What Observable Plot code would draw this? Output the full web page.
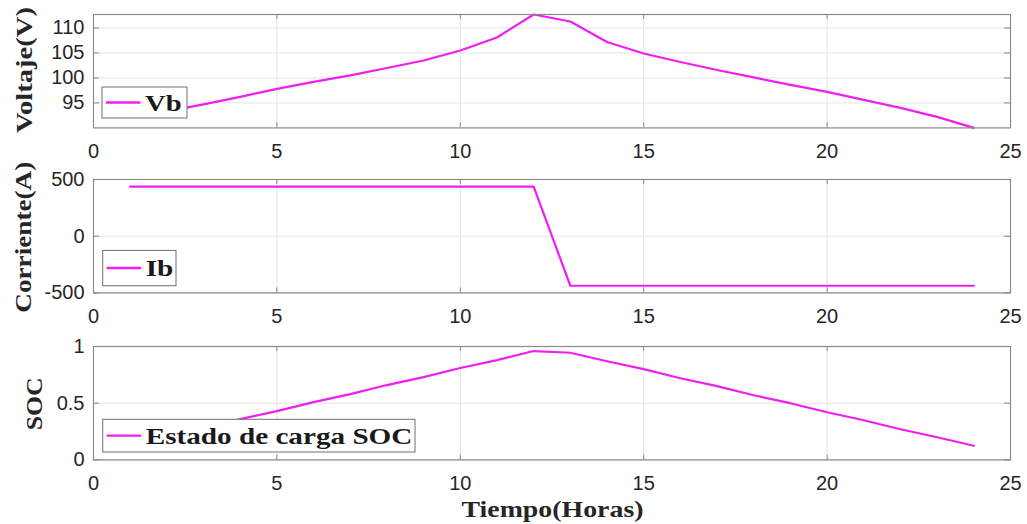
<!DOCTYPE html>
<html>
<head>
<meta charset="utf-8">
<script src="https://cdn.jsdelivr.net/npm/d3@7"></script>
<script src="https://cdn.jsdelivr.net/npm/@observablehq/plot@0.6"></script>
<style>
  html, body { margin: 0; padding: 0; background: white; }
  #chart { position: relative; width: 1027px; height: 524px; overflow: hidden; background: white; }
  #chart svg { position: absolute; left: 0; }
</style>
</head>
<body>
<div id="chart"></div>
<script>
// ---- data ----
const hours = [1, 2, 3, 4, 5, 6, 7, 8, 9, 10, 11, 12, 13, 14, 15, 16, 17, 18, 19, 20, 21, 22, 23, 24];
const vb = [92.4, 93.3, 94.7, 96.2, 97.8, 99.2, 100.5, 102.0, 103.5, 105.5, 108.1, 112.7,
            111.3, 107.2, 104.9, 103.2, 101.6, 100.1, 98.6, 97.2, 95.6, 94.0, 92.2, 90.0];
const ib = [437, 437, 437, 437, 437, 437, 437, 437, 437, 437, 437, 437,
            -437, -437, -437, -437, -437, -437, -437, -437, -437, -437, -437, -437];
const soc = [0.13, 0.21, 0.28, 0.36, 0.43, 0.51, 0.58, 0.66, 0.73, 0.81, 0.88, 0.96,
             0.945, 0.87, 0.80, 0.72, 0.65, 0.57, 0.50, 0.42, 0.35, 0.27, 0.20, 0.125];
const xTicks = [0, 5, 10, 15, 20, 25];
const vbTicks = [95, 100, 105, 110];
const ibTicks = [-500, 0, 500];
const socTicks = [0, 0.5, 1];
const xLabel = "Tiempo(Horas)";
const panels = [
  {values: vb, domain: [90, 112.7], ticks: vbTicks, ylabel: "Voltaje(V)", legend: "Vb",
   top: 0, mb: 38.6, ylx: 24, yly: 70, legBox: [102, 87, 85, 31], legText: 36.6, ylLen: 126},
  {values: ib, domain: [-500, 500], ticks: ibTicks, ylabel: "Corriente(A)", legend: "Ib",
   top: 165.3, mb: 38.6, ylx: 23, yly: 72.2, legBox: [102.7, 85.4, 73.3, 35.3], legText: 27.7, ylLen: 151},
  {values: soc, domain: [0, 1], ticks: socTicks, ylabel: "SOC", legend: "Estado de carga SOC",
   top: 331.7, mb: 64.6, ylx: 34, yly: 71.8, legBox: [102.7, 87.3, 312.3, 32.7], legText: 266.7, ylLen: 53}
];

const magenta = "#f01ef0";
const frameColor = "#8a8a8a";
const gridColor = "#e4e4e4";
const serif = "'Liberation Serif', 'DejaVu Serif', serif";
const container = document.getElementById("chart");
const plotH = 113.4;
const mt = 14;

panels.forEach((p, i) => {
  const rows = hours.map((h, k) => ({h, v: p.values[k]}));
  const H = mt + plotH + p.mb;
  const svg = Plot.plot({
    width: 1027,
    height: H,
    marginLeft: 93,
    marginRight: 17,
    marginTop: mt,
    marginBottom: p.mb,
    style: {fontFamily: "'Liberation Sans', Arial, sans-serif", fontSize: "20px", color: "#262626", background: "white", overflow: "visible"},
    x: {domain: [0, 25], label: null},
    y: {domain: p.domain, label: null},
    marks: [
      Plot.gridX(xTicks, {stroke: gridColor, strokeOpacity: 1}),
      Plot.gridY(p.ticks, {stroke: gridColor, strokeOpacity: 1}),
      Plot.line(rows, {x: "h", y: "v", stroke: magenta, strokeWidth: 2.2}),
      Plot.tickX(xTicks, {x: d => d, insetBottom: plotH - 5, stroke: frameColor}),
      Plot.tickX(xTicks, {x: d => d, insetTop: plotH - 5, stroke: frameColor}),
      Plot.tickY(p.ticks, {y: d => d, insetRight: 917 - 6, stroke: frameColor}),
      Plot.tickY(p.ticks, {y: d => d, insetLeft: 917 - 6, stroke: frameColor}),
      Plot.frame({stroke: frameColor, strokeWidth: 1.2}),
      Plot.axisX(xTicks, {tickSize: 0, tickPadding: 16, tickFormat: d => String(d), fill: "#262626"}),
      Plot.axisY(p.ticks, {tickSize: 0, tickPadding: 9, tickFormat: d => String(d), fill: "#262626"})
    ]
  });
  svg.style.top = p.top + "px";
  const s = d3.select(svg);
  // y label
  s.append("text")
    .attr("transform", `translate(${p.ylx},${p.yly}) rotate(-90)`)
    .attr("text-anchor", "middle")
    .attr("dy", "0.35em")
    .attr("font-family", serif)
    .attr("font-weight", "bold")
    .attr("font-size", 24)
    .attr("fill", "#262626")
    .attr("textLength", p.ylLen)
    .attr("lengthAdjust", "spacingAndGlyphs")
    .text(p.ylabel);
  // legend
  const [bx, by, bw, bh] = p.legBox;
  const g = s.append("g");
  g.append("rect").attr("x", bx).attr("y", by).attr("width", bw).attr("height", bh)
    .attr("fill", "white").attr("stroke", "#707070").attr("stroke-width", 1);
  const cy = by + bh / 2;
  g.append("line").attr("x1", bx + 4).attr("x2", bx + 38.5).attr("y1", cy).attr("y2", cy)
    .attr("stroke", magenta).attr("stroke-width", 2.4);
  g.append("text").attr("x", bx + 43).attr("y", cy).attr("dy", "0.35em")
    .attr("text-anchor", "start")
    .attr("font-family", serif).attr("font-weight", "bold").attr("font-size", 24)
    .attr("fill", "#1a1a1a")
    .attr("textLength", p.legText).attr("lengthAdjust", "spacingAndGlyphs")
    .text(p.legend);
  if (i === 2) {
    s.append("text")
      .attr("x", 552.5).attr("y", 177.3).attr("dy", "0.35em")
      .attr("text-anchor", "middle")
      .attr("font-family", serif).attr("font-weight", "bold").attr("font-size", 23)
      .attr("fill", "#262626")
      .attr("textLength", 182).attr("lengthAdjust", "spacingAndGlyphs")
      .text(xLabel);
  }
  container.appendChild(svg);
});
</script>
</body>
</html>
